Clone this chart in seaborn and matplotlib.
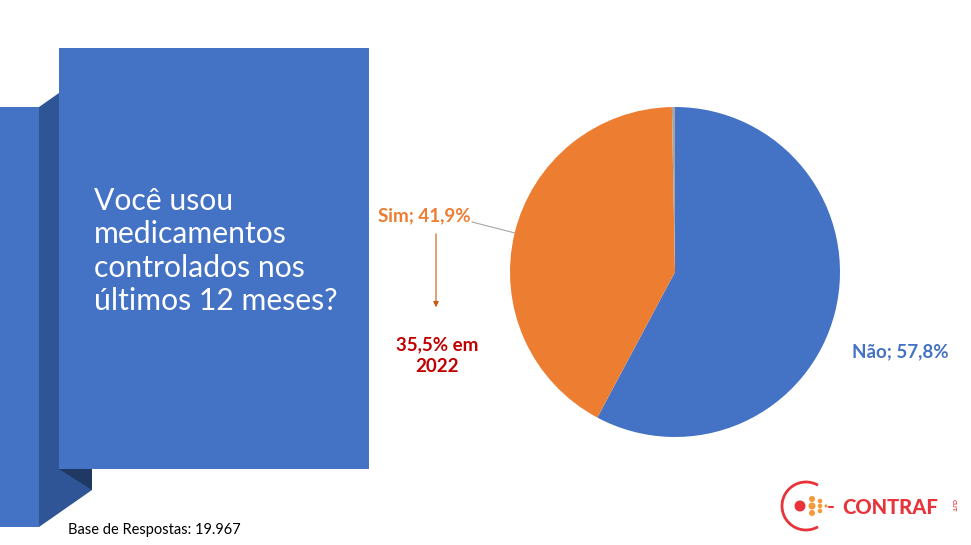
import numpy as np
import matplotlib.pyplot as plt
import matplotlib.patches as mpatches
import seaborn as sns

# --- data ---
categories = ["Não", "Sim", "Outros"]
shares = [57.8, 41.9, 0.3]
label_texts = ["Não; 57,8%", "Sim; 41,9%"]
previous_note = "35,5% em\n2022"
question = "Você usou\nmedicamentos\ncontrolados nos\núltimos 12 meses?"
base_note = "Base de Respostas: 19.967"

slice_colors = ["#4472C4", "#ED7D31", "#A5A5A5"]
panel_blue = "#4472C4"
side_blue = "#2F5597"
dark_blue = "#1F3864"

sns.set_theme(style="white")
plt.rcParams["font.family"] = ["Lato", "DejaVu Sans"]

fig = plt.figure(figsize=(9.71, 5.45), dpi=100)
fig.patch.set_facecolor("white")

# --- background slide shapes in pixel coordinates ---
bg = fig.add_axes([0, 0, 1, 1])
bg.set_xlim(0, 971)
bg.set_ylim(545, 0)
bg.axis("off")

bg.add_patch(mpatches.Rectangle((0, 107), 39, 420, color=panel_blue, lw=0))
bg.add_patch(mpatches.Polygon([(39, 107), (59, 93), (59, 469), (92, 469),
                               (92, 490), (39, 527)], closed=True,
                              color=side_blue, lw=0))
bg.add_patch(mpatches.Polygon([(59, 469), (92, 469), (92, 490)], closed=True,
                              color=dark_blue, lw=0))
bg.add_patch(mpatches.Rectangle((59, 48), 310, 421, color=panel_blue, lw=0))

bg.text(94, 251, question, color="white", fontsize=21.7, fontweight="normal",
        va="center", ha="left", linespacing=1.22)

bg.text(68, 530, base_note, color="black", fontsize=10.5, va="center")

# annotations around the pie
bg.text(424, 216, label_texts[1], color="#ED7D31", fontsize=13.5,
        fontweight="bold", ha="center", va="center")
bg.plot([472, 515], [222, 233], color="#A6A6A6", lw=0.8)
bg.annotate("", xy=(436, 310), xytext=(436, 231),
            arrowprops=dict(arrowstyle="-|>", color="#C55A11", lw=0.8,
                            mutation_scale=8))
bg.text(437, 356, previous_note, color="#C00000", fontsize=13.5,
        fontweight="bold", ha="center", va="center", linespacing=1.35)
bg.text(900, 352, label_texts[0], color="#4472C4", fontsize=13.5,
        fontweight="bold", ha="center", va="center")

# logo
bg.add_patch(mpatches.Arc((806, 506), 48, 48, theta1=60, theta2=300,
                          color="#E8333A", lw=2))
bg.add_patch(mpatches.Circle((800, 506), 5.5, color="#E8333A", lw=0))
for dx, dy, r in [(12, -7, 3), (12, 0, 3.5), (12, 7, 3), (20, -5, 2.3),
                  (20, 5, 2.3), (20, 0, 2.3), (26, 0, 1.6)]:
    bg.add_patch(mpatches.Circle((800 + dx, 506 + dy), r, color="#F39A3A", lw=0))
bg.plot([829, 833], [507, 507], color="#E8333A", lw=1.5)
bg.text(842, 507, "CONTRAF", color="#E8333A", fontsize=14.5, fontweight="black",
        va="center", ha="left")
bg.text(953, 505, "CUT", color="#E8333A", fontsize=4.5, fontweight="bold",
        va="center", ha="center", rotation=-90)

# --- pie ---
cx, cy, r = 675, 272, 165
ax = fig.add_axes([(cx - r) / 971, 1 - (cy + r) / 545, 2 * r / 971, 2 * r / 545])
ax.pie(shares, colors=slice_colors, startangle=90, counterclock=False,
       radius=1, wedgeprops=dict(linewidth=0))
ax.set_xlim(-1, 1)
ax.set_ylim(-1, 1)
ax.set_aspect("equal")
ax.axis("off")

fig.savefig("out.png", dpi=100)
